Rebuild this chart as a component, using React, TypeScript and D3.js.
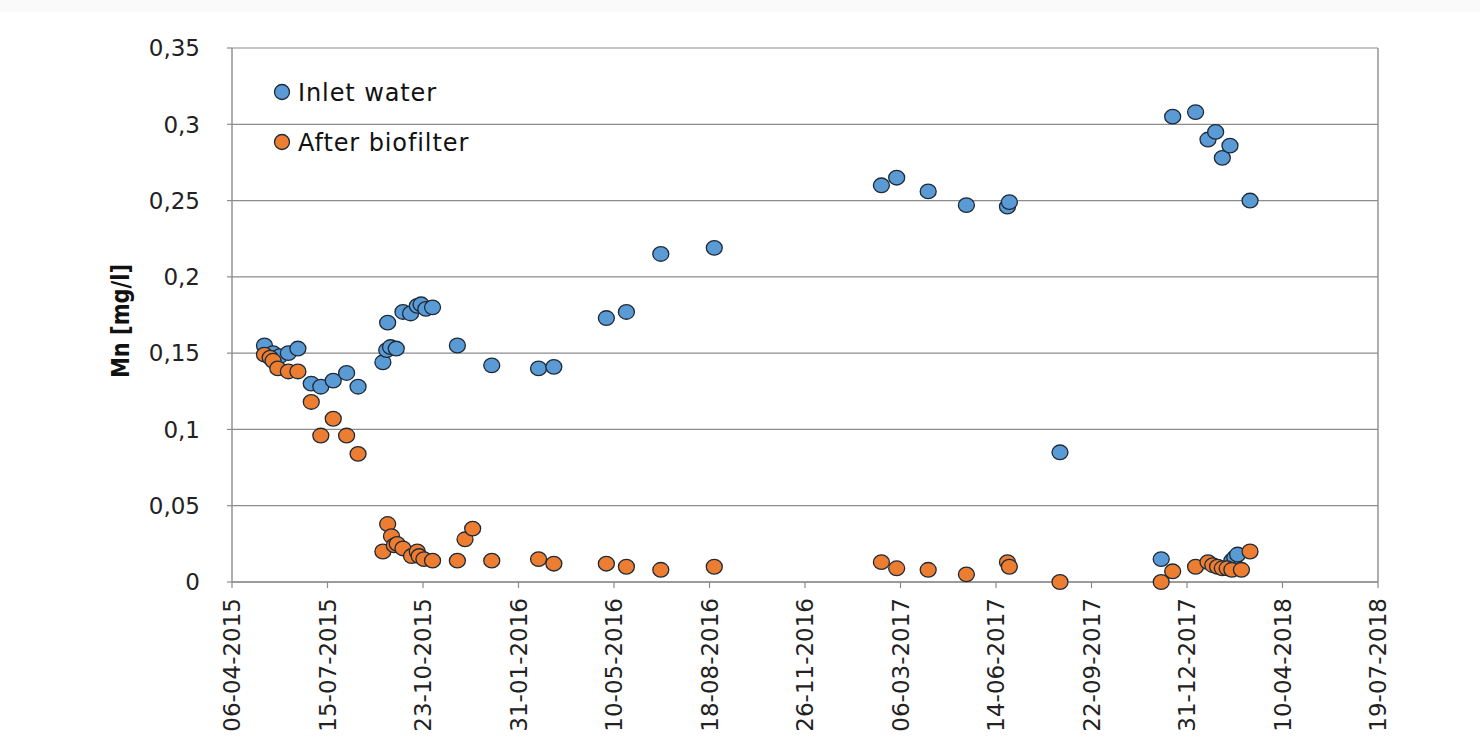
import { useMemo } from 'react';
import * as d3 from 'd3';

const inletDates = [
  '2015-05-10', '2015-05-19', '2015-05-26', '2015-06-04', '2015-06-14',
  '2015-06-28', '2015-07-08', '2015-07-21', '2015-08-04', '2015-08-16',
  '2015-09-11', '2015-09-16', '2015-09-15', '2015-09-19', '2015-09-25',
  '2015-10-02', '2015-10-10', '2015-10-17', '2015-10-21', '2015-10-26',
  '2015-11-02', '2015-11-28', '2016-01-03', '2016-02-21', '2016-03-08',
  '2016-05-02', '2016-05-23', '2016-06-28', '2016-08-23', '2017-02-14',
  '2017-03-02', '2017-04-04', '2017-05-14', '2017-06-26', '2017-06-28',
  '2017-08-20', '2017-12-04', '2017-12-16', '2018-01-09', '2018-01-22',
  '2018-01-30', '2018-02-06', '2018-02-14', '2018-02-16', '2018-02-19',
  '2018-02-22', '2018-03-07',
];
const inletValues = [
  0.155, 0.150, 0.148, 0.150, 0.153,
  0.130, 0.128, 0.132, 0.137, 0.128,
  0.144, 0.170, 0.152, 0.154, 0.153,
  0.177, 0.176, 0.181, 0.182, 0.179,
  0.180, 0.155, 0.142, 0.140, 0.141,
  0.173, 0.177, 0.215, 0.219, 0.260,
  0.265, 0.256, 0.247, 0.246, 0.249,
  0.085, 0.015, 0.305, 0.308, 0.290,
  0.295, 0.278, 0.286, 0.014, 0.016,
  0.018, 0.250,
];

const afterDates = [
  '2015-05-10', '2015-05-16', '2015-05-19', '2015-05-24', '2015-06-04',
  '2015-06-14', '2015-06-28', '2015-07-08', '2015-07-21', '2015-08-04',
  '2015-08-16', '2015-09-11', '2015-09-16', '2015-09-20', '2015-09-23',
  '2015-09-26', '2015-10-02', '2015-10-11', '2015-10-17', '2015-10-19',
  '2015-10-24', '2015-11-02', '2015-11-28', '2015-12-06', '2015-12-14',
  '2016-01-03', '2016-02-21', '2016-03-08', '2016-05-02', '2016-05-23',
  '2016-06-28', '2016-08-23', '2017-02-14', '2017-03-02', '2017-04-04',
  '2017-05-14', '2017-06-26', '2017-06-28', '2017-08-20', '2017-12-04',
  '2017-12-16', '2018-01-09', '2018-01-22', '2018-01-27', '2018-02-01',
  '2018-02-06', '2018-02-11', '2018-02-16', '2018-02-26', '2018-03-07',
];
const afterValues = [
  0.149, 0.147, 0.145, 0.140, 0.138,
  0.138, 0.118, 0.096, 0.107, 0.096,
  0.084, 0.020, 0.038, 0.030, 0.024,
  0.025, 0.022, 0.017, 0.020, 0.017,
  0.015, 0.014, 0.014, 0.028, 0.035,
  0.014, 0.015, 0.012, 0.012, 0.010,
  0.008, 0.010, 0.013, 0.009, 0.008,
  0.005, 0.013, 0.010, 0.000, 0.000,
  0.007, 0.010, 0.013, 0.011, 0.010,
  0.009, 0.009, 0.008, 0.008, 0.020,
];

const xTickDates = [
  '2015-04-06', '2015-07-15', '2015-10-23', '2016-01-31', '2016-05-10',
  '2016-08-18', '2016-11-26', '2017-03-06', '2017-06-14', '2017-09-22',
  '2017-12-31', '2018-04-10', '2018-07-19',
];
const yTicks = [0, 0.05, 0.1, 0.15, 0.2, 0.25, 0.3, 0.35];

const SERIES = [
  { label: 'Inlet water', dates: inletDates, values: inletValues, color: '#5b9bd5' },
  { label: 'After biofilter', dates: afterDates, values: afterValues, color: '#ed7d31' },
];

const W = 1480;
const H = 752;
const margin = { top: 48, right: 102, bottom: 170, left: 232 };
const FONT = "'DejaVu Sans', Verdana, sans-serif";

export default function App() {
  const parse = d3.utcParse('%Y-%m-%d');
  const fmtTick = d3.utcFormat('%d-%m-%Y');

  const x = useMemo(
    () => d3.scaleUtc()
      .domain([parse(xTickDates[0])!, parse(xTickDates[xTickDates.length - 1])!])
      .range([margin.left, W - margin.right]),
    []
  );
  const y = useMemo(
    () => d3.scaleLinear().domain([0, 0.35]).range([H - margin.bottom, margin.top]),
    []
  );

  const x0 = margin.left;
  const x1 = W - margin.right;
  const y0 = H - margin.bottom;
  const yFmt = (v: number) => String(+v.toFixed(2)).replace('.', ',');

  return (
    <div style={{ position: 'absolute', left: 0, top: 0 }}>
      <svg width={W} height={H} style={{ display: 'block', background: '#fff' }}>
        <rect x={0} y={0} width={W} height={12} fill="#fafafa" />

        {/* gridlines */}
        {yTicks.map(v => (
          <g key={v}>
            <line x1={x0} x2={x1} y1={y(v)} y2={y(v)} stroke="#8c8c8c" strokeWidth={1.2} />
            <line x1={x0 - 5} x2={x0} y1={y(v)} y2={y(v)} stroke="#8c8c8c" strokeWidth={1.2} />
            <text x={200} y={y(v)} dy="0.36em" textAnchor="end" fontFamily={FONT}
              fontSize={23} fill="#222">{yFmt(v)}</text>
          </g>
        ))}

        {/* frame */}
        <line x1={x0} x2={x0} y1={margin.top} y2={y0} stroke="#8c8c8c" strokeWidth={1.4} />
        <line x1={x1} x2={x1} y1={margin.top} y2={y0} stroke="#8c8c8c" strokeWidth={1.4} />
        <line x1={x0} x2={x1} y1={y0} y2={y0} stroke="#8c8c8c" strokeWidth={1.4} />

        {/* x ticks */}
        {xTickDates.map(s => {
          const d = parse(s)!;
          const px = x(d);
          return (
            <g key={s}>
              <line x1={px} x2={px} y1={y0} y2={y0 + 6} stroke="#8c8c8c" strokeWidth={1.2} />
              <text transform={`translate(${px},${y0 + 16}) rotate(-90)`} dy="0.36em"
                textAnchor="end" fontFamily={FONT} fontSize={23} fill="#222">{fmtTick(d)}</text>
            </g>
          );
        })}

        {/* y title */}
        <text transform={`translate(120,${(margin.top + y0) / 2 + 6}) rotate(-90)`} dy="0.36em"
          textAnchor="middle" fontFamily={FONT} fontWeight="bold" fontSize={25}
          textLength={114} lengthAdjust="spacingAndGlyphs" fill="#111">Mn [mg/l]</text>

        {/* points */}
        {SERIES.map(s => (
          <g key={s.label}>
            {s.dates.map((dt, i) => (
              <ellipse key={i} cx={x(parse(dt)!)} cy={y(s.values[i])} rx={8} ry={7.3}
                fill={s.color} stroke="#1e2a38" strokeWidth={1.3} />
            ))}
          </g>
        ))}

        {/* legend */}
        {SERIES.map((s, i) => (
          <g key={s.label} transform={`translate(282,${92 + i * 50})`}>
            <circle r={7.5} fill={s.color} stroke="#1e2a38" strokeWidth={1.3} />
            <text x={16} dy="0.36em" fontFamily={FONT} fontSize={24} letterSpacing={0.9}
              fill="#111">{s.label}</text>
          </g>
        ))}
      </svg>
    </div>
  );
}
